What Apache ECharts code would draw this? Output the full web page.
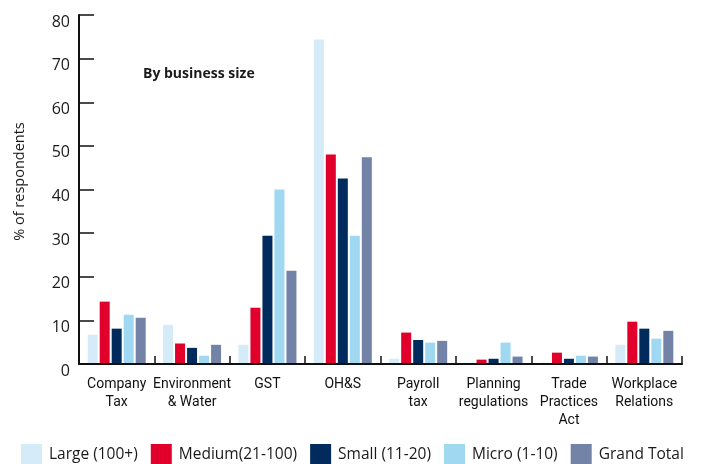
<!DOCTYPE html>
<html>
<head>
<meta charset="utf-8">
<script src="https://cdn.jsdelivr.net/npm/echarts@6/dist/echarts.min.js"></script>
<style>
  html, body { margin: 0; padding: 0; background: #ffffff; }
  #chart { width: 707px; height: 464px; }
</style>
</head>
<body>
<div id="chart"></div>
<script>
// Categories of regulation and share of respondents (%) per business size
var categories = [
  'Company\nTax', 'Environment\n& Water', 'GST', 'OH&S',
  'Payroll\ntax', 'Planning\nregulations', 'Trade\nPractices\nAct', 'Workplace\nRelations'
];
var seriesNames = ['Large (100+)', 'Medium(21-100)', 'Small (11-20)', 'Micro (1-10)', 'Grand Total'];
var large  = [6.7, 9.0, 4.4, 74.4, 1.2, 0.3, 0.3, 4.4];
var medium = [14.3, 4.7, 12.9, 48.0, 7.2, 1.0, 2.6, 9.7];
var small  = [8.1, 3.7, 29.4, 42.5, 5.5, 1.2, 1.2, 8.1];
var micro  = [11.3, 1.9, 40.0, 29.4, 4.9, 4.9, 1.9, 5.8];
var grand  = [10.6, 4.4, 21.4, 47.4, 5.3, 1.7, 1.7, 7.6];
var yTicks = [0, 10, 20, 30, 40, 50, 60, 70, 80];

var colors = ['#d5ebf8', '#e1002b', '#002b5c', '#a1d8f1', '#7283a7'];
var values = [large, medium, small, micro, grand];
var textColor = '#1a1a1a';
var baseFont = '"Open Sans", "Noto Sans", sans-serif';
var narrowFont = 'Roboto, "Open Sans", sans-serif';

var chart = echarts.init(document.getElementById('chart'), null, { renderer: 'canvas' });

var series = seriesNames.map(function (name, i) {
  return {
    name: name,
    type: 'bar',
    data: values[i],
    barWidth: 10,
    barGap: '20%',
    itemStyle: { color: colors[i] },
    z: 1
  };
});

chart.setOption({
  animation: false,
  backgroundColor: '#ffffff',
  color: colors,
  grid: { left: 79, right: 25, top: 15, bottom: 100, containLabel: false },
  legend: {
    data: seriesNames,
    left: 21,
    top: 444,
    width: 690,
    padding: 0,
    itemWidth: 21,
    itemHeight: 21,
    itemGap: 13,
    icon: 'rect',
    textStyle: {
      fontFamily: baseFont,
      fontSize: 15.5,
      color: textColor,
      padding: [7, 0, 0, 2]
    }
  },
  graphic: [{
    type: 'text',
    left: 143,
    top: 67,
    style: {
      text: 'By business size',
      fontFamily: baseFont,
      fontWeight: 'bold',
      fontSize: 14,
      fill: textColor
    }
  }],
  xAxis: {
    type: 'category',
    data: categories,
    boundaryGap: true,
    axisLine: { show: true, lineStyle: { color: '#111', width: 2 } },
    axisTick: { show: true, inside: true, length: 8, interval: 0, lineStyle: { color: '#111', width: 1.5 } },
    axisLabel: {
      interval: 0,
      margin: 11,
      fontFamily: narrowFont,
      fontSize: 14,
      lineHeight: 18,
      color: '#111'
    },
    splitLine: { show: false },
    z: 3
  },
  yAxis: {
    type: 'value',
    min: yTicks[0],
    max: yTicks[yTicks.length - 1],
    interval: 10,
    name: '% of respondents',
    nameLocation: 'middle',
    nameRotate: 90,
    nameGap: 52,
    nameTextStyle: {
      fontFamily: baseFont,
      fontSize: 14.5,
      color: textColor,
      padding: [0, 0, 0, 16]
    },
    axisLine: { show: true, lineStyle: { color: '#111', width: 2 } },
    axisTick: { show: true, inside: true, length: 15, lineStyle: { color: '#111', width: 1.5 } },
    axisLabel: {
      margin: 9,
      fontFamily: baseFont,
      fontSize: 16,
      color: textColor,
      verticalAlign: 'top',
      lineHeight: 14
    },
    splitLine: { show: false },
    z: 3
  },
  series: series
});
</script>
</body>
</html>
